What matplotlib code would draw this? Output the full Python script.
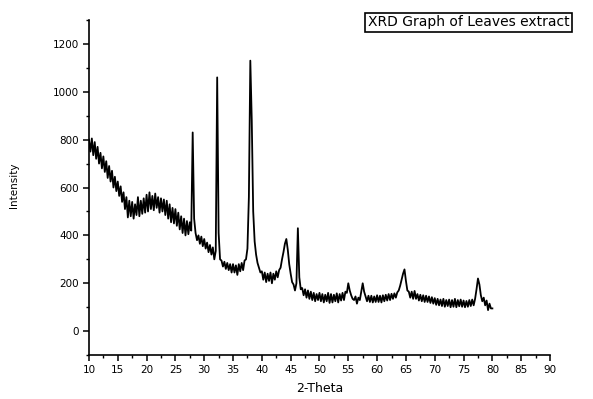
import numpy as np
import matplotlib
matplotlib.use("Agg")
import matplotlib.pyplot as plt
from matplotlib.ticker import MultipleLocator

plt.rcParams['font.family'] = ['DejaVu Sans']

# 2-Theta from 10 to 80 in 0.25 deg steps
theta_start, theta_end = 10.0, 80.0
intensity = [
    800, 750, 805, 735, 790, 720, 770, 700, 745, 680, 730, 665, 710, 640, 690, 625, 670, 600, 645, 585,
    625, 565, 605, 540, 580, 510, 560, 475, 545, 480, 540, 470, 530, 485, 560, 480, 545, 490, 555, 495,
    570, 500, 580, 510, 565, 505, 575, 515, 560, 495, 555, 500, 550, 485, 545, 470, 530, 455, 515, 450,
    510, 440, 495, 425, 480, 410, 470, 400, 460, 405, 455, 420, 830, 470, 410, 380, 400, 365, 395, 355,
    385, 345, 370, 330, 360, 320, 350, 300, 335, 1060, 410, 300, 295, 270, 290, 260, 285, 255, 280, 245,
    280, 245, 275, 235, 280, 250, 285, 255, 295, 300, 345, 560, 1130, 880, 500, 375, 320, 285, 265, 245,
    250, 215, 245, 205, 240, 210, 245, 200, 240, 215, 250, 225, 255, 265, 300, 330, 365, 385, 340, 280,
    240, 205, 195, 170, 200, 430, 225, 175, 180, 150, 175, 140, 170, 135, 165, 130, 160, 125, 155, 130,
    160, 125, 155, 120, 152, 125, 160, 118, 155, 120, 152, 125, 158, 120, 155, 128, 160, 130, 165, 160,
    200, 170, 150, 135, 130, 145, 115, 140, 130, 165, 200, 165, 145, 125, 148, 122, 148, 120, 145, 122,
    150, 122, 148, 120, 150, 125, 152, 128, 155, 130, 156, 135, 158, 140, 162, 170, 190, 215, 240, 258,
    210, 170, 165, 140, 165, 135, 168, 135, 155, 128, 152, 125, 150, 122, 148, 122, 145, 118, 142, 115,
    138, 110, 135, 108, 132, 105, 135, 102, 130, 105, 132, 100, 130, 102, 135, 100, 130, 104, 132, 102,
    128, 100, 126, 102, 130, 105, 132, 108, 135, 175, 220, 195, 150, 125, 140, 108, 128, 88, 115, 95,
    95,
]
two_theta = np.linspace(theta_start, theta_end, len(intensity))

x_major = [10, 15, 20, 25, 30, 35, 40, 45, 50, 55, 60, 65, 70, 75, 80, 85, 90]
y_major = [0, 200, 400, 600, 800, 1000, 1200]

fig = plt.figure(figsize=(5.93, 3.99), dpi=100)
ax = fig.add_axes([0.150, 0.110, 0.7775, 0.840])
ax.plot(two_theta, intensity, color='black', lw=1.3)

ax.set_xlim(10, 90)
ax.set_ylim(-100, 1300)
ax.set_xticks(x_major)
ax.set_yticks(y_major)
ax.xaxis.set_minor_locator(MultipleLocator(2.5))
ax.yaxis.set_minor_locator(MultipleLocator(100))
for s in ['top', 'right']:
    ax.spines[s].set_visible(False)
for s in ['left', 'bottom']:
    ax.spines[s].set_linewidth(1.2)
ax.tick_params(which='major', direction='out', length=4, width=1.1, labelsize=7.5, pad=3)
ax.tick_params(which='minor', direction='out', length=2.5, width=1.0)

ax.set_xlabel('2-Theta', fontsize=9, labelpad=5)
fig.text(0.024, 0.536, 'Intensity', rotation=90, fontsize=7.5, ha='center', va='center')

fig.text(0.620, 0.944, 'XRD Graph of Leaves extract', fontsize=10, ha='left', va='center',
         bbox=dict(boxstyle='square,pad=0.2', facecolor='white', edgecolor='black', linewidth=1.2))

fig.savefig('out.png', dpi=100)
